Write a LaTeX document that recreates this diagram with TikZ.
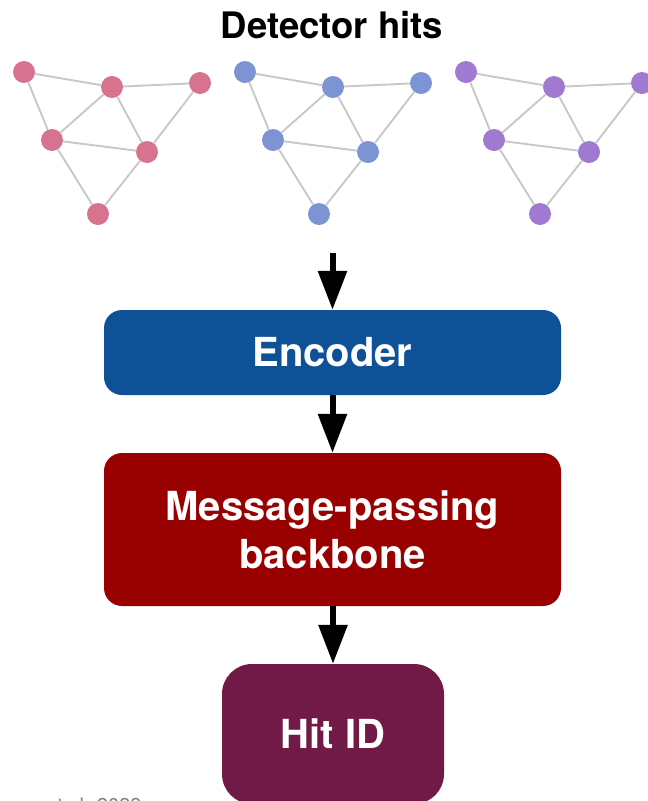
\documentclass[tikz,border=0pt]{standalone}
\usepackage{fontspec}
\setmainfont{TeX Gyre Heros}
\usetikzlibrary{arrows.meta}
\definecolor{encblue}{HTML}{0E5196}
\definecolor{mpred}{HTML}{990000}
\definecolor{hitpurple}{HTML}{721A47}
\definecolor{gpink}{HTML}{D7738F}
\definecolor{gblue}{HTML}{7C93D4}
\definecolor{gviolet}{HTML}{A07AD0}
\definecolor{gedge}{HTML}{C8C8C8}
\newcommand\hitgraph[3]{%
  \begin{scope}[xshift=#2]
    \node[hit,fill=#3] (#1a) at (24,72) {};
    \node[hit,fill=#3] (#1b) at (112,87) {};
    \node[hit,fill=#3] (#1c) at (200,83) {};
    \node[hit,fill=#3] (#1d) at (52,140) {};
    \node[hit,fill=#3] (#1e) at (147,152) {};
    \node[hit,fill=#3] (#1f) at (98,214) {};
    \draw[gline] (#1a) -- (#1b) (#1b) -- (#1c) (#1a) -- (#1d) (#1d) -- (#1b)
      (#1b) -- (#1e) (#1c) -- (#1e) (#1d) -- (#1e) (#1d) -- (#1f) (#1e) -- (#1f);
  \end{scope}}
\begin{document}
\begin{tikzpicture}[x=1pt,y=-1pt,
  hit/.style={circle,draw=none,minimum size=22pt,inner sep=0pt},
  gline/.style={draw=gedge,line width=1.9pt},
  box/.style={rounded corners=18pt,draw=none,text=white,align=center,
    font=\bfseries\fontsize{40}{48}\selectfont},
  arr/.style={line width=6pt,-{Triangle[width=28pt,length=39pt]}}]
\useasboundingbox (0,0) rectangle (648,801);
\clip (0,0) rectangle (648,801);
\node[font=\bfseries\fontsize{36.5}{40}\selectfont] (title) at (332,25) {Detector hits};
\hitgraph{p}{0pt}{gpink}
\hitgraph{q}{221pt}{gblue}
\hitgraph{r}{442pt}{gviolet}
\node[box,fill=encblue,minimum width=457pt,minimum height=85pt] (enc) at (332.5,352.5) {Encoder};
\node[box,fill=mpred,minimum width=457pt,minimum height=153pt] (mp) at (332.5,529.5) {Message-passing\\backbone};
\node[box,fill=hitpurple,rounded corners=30pt,minimum width=222pt,minimum height=140pt] (hid) at (333,734) {Hit ID};
\coordinate (a0) at (332.5,253);
\draw[arr] (a0) -- (enc.north);
\draw[arr] (enc.south) -- (mp.north);
\draw[arr] (mp.south -| hid.north) -- (hid.north);
\node[anchor=base east,text=gray,font=\fontsize{20}{24}\selectfont] (cite) at (145,812) {et al. 2023};
\end{tikzpicture}
\end{document}
